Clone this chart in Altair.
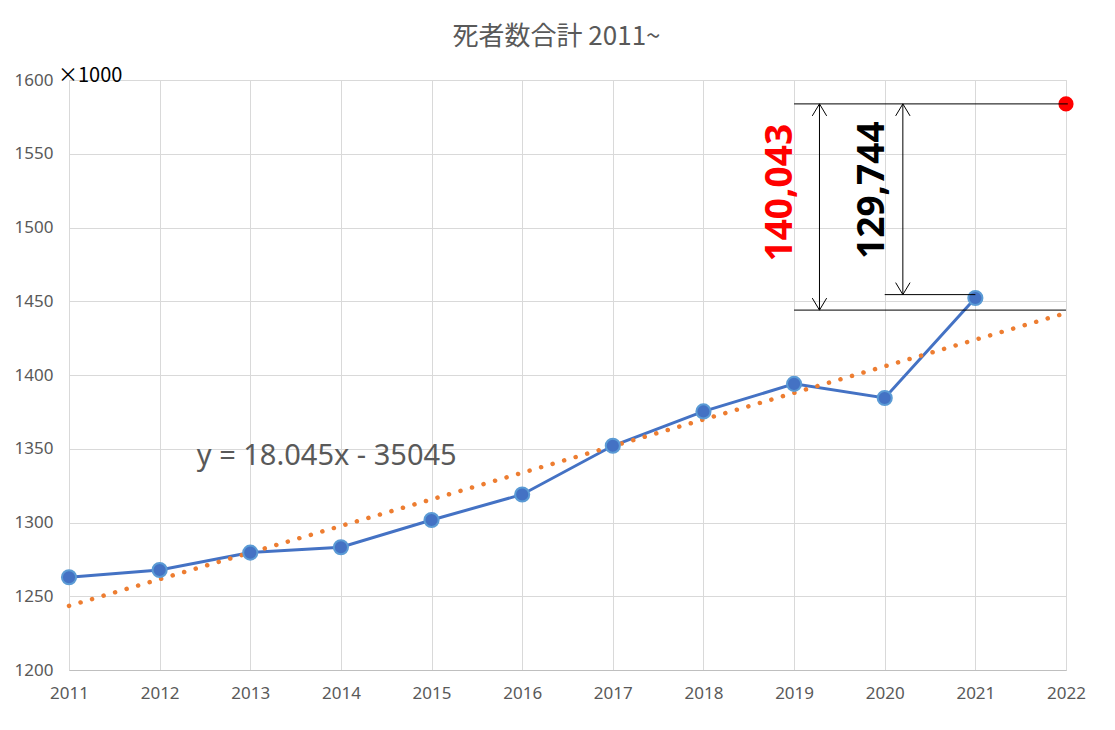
import altair as alt
import pandas as pd

# ---- data ----
years = list(range(2011, 2022))
deaths = [1262.9, 1267.8, 1279.6, 1283.2, 1301.7, 1319.0, 1352.0, 1375.3, 1394.0, 1384.4, 1452.2]
year_2022 = [2022]
deaths_2022 = [1583.8]
trend_years = [2011, 2022]
trend_values = [1243.5, 1442.0]
x_ticks = list(range(2011, 2023))
y_ticks = list(range(1200, 1601, 50))

title_text = ["死者数合計 2011~"]
equation_text = ["y = 18.045x - 35045"]
unit_text = ["×1000"]
diff_labels = ["140,043", "129,744"]
diff_colors = ["#FF0000", "#000000"]

# annotation geometry (data coordinates)
hl_x = [2019.0, 2019.0, 2020.0]
hl_x2 = [2022.02, 2022.0, 2021.0]
hl_y = [1583.8, 1444.0, 1454.5]
vl_x = [2019.28, 2020.2]
vl_y = [1583.8, 1583.8]
vl_y2 = [1444.0, 1454.5]
lab_x = [2018.86, 2019.87]
lab_y = [1523.6, 1525.3]
eq_x = [2012.41]
eq_y = [1339.0]

FONT = "Noto Sans"
JP = "Noto Sans CJK JP"
GRAY = "#595959"
GRID = "#d9d9d9"

xs = alt.Scale(domain=[2011, 2022], nice=False, zero=False)
ys = alt.Scale(domain=[1200, 1600], nice=False, zero=False)

x_axis = alt.Axis(values=x_ticks, format="d", title=None, grid=True, gridColor=GRID,
                  domainColor="#bfbfbf", ticks=False, labelFontSize=17, labelColor=GRAY,
                  labelFont=FONT, labelPadding=15, labelBaseline="top", labelFlush=False,
                  labelOverlap=False)
y_axis = alt.Axis(values=y_ticks, format="d", title=None, grid=True, gridColor=GRID, domain=False,
                  ticks=False, labelFontSize=17, labelColor=GRAY, labelFont=FONT, labelPadding=16,
                  labelFlush=False, labelOverlap=False)


def X(f):
    return alt.X(f"{f}:Q", scale=xs, axis=x_axis)


def Y(f):
    return alt.Y(f"{f}:Q", scale=ys, axis=y_axis)


df = pd.DataFrame({"year": years, "deaths": deaths})

line = alt.Chart(df).mark_line(color="#4472C4", strokeWidth=3).encode(x=X("year"), y=Y("deaths"))
pts = alt.Chart(df).mark_point(filled=True, size=200, fill="#4472C4", stroke="#5B9BD5",
                               strokeWidth=2, opacity=1).encode(x=X("year"), y=Y("deaths"))

trend_df = pd.DataFrame({"year": trend_years, "deaths": trend_values})
trend = alt.Chart(trend_df).mark_line(color="#ED7D31", strokeWidth=4.5, strokeCap="round",
                                      strokeDash=[0.1, 11.9]).encode(x=X("year"), y=Y("deaths"))

red_df = pd.DataFrame({"year": year_2022, "deaths": deaths_2022})
red = alt.Chart(red_df).mark_circle(size=230, color="#FF0000", opacity=1).encode(
    x=X("year"), y=Y("deaths"))

hl_df = pd.DataFrame({"x": hl_x, "x2": hl_x2, "y": hl_y})
hlines = alt.Chart(hl_df).mark_rule(color="black", strokeWidth=1).encode(
    x=X("x"), x2="x2:Q", y=Y("y"))

vl_df = pd.DataFrame({"x": vl_x, "y": vl_y, "y2": vl_y2})
vlines = alt.Chart(vl_df).mark_rule(color="black", strokeWidth=1).encode(
    x=X("x"), y=Y("y"), y2="y2:Q")

up = alt.Chart(vl_df).mark_point(shape="M -0.6 1 L 0 0 L 0.6 1", size=576, filled=False,
                                 color="black", strokeWidth=1, opacity=1).encode(x=X("x"), y=Y("y"))
down = alt.Chart(vl_df).mark_point(shape="M -0.6 -1 L 0 0 L 0.6 -1", size=576, filled=False,
                                   color="black", strokeWidth=1, opacity=1).encode(x=X("x"), y=Y("y2"))

lab_df = pd.DataFrame({"x": lab_x, "y": lab_y, "t": diff_labels, "c": diff_colors})
labels = alt.Chart(lab_df).mark_text(angle=270, align="center", baseline="middle", fontSize=37,
                                     fontWeight="bold", font=FONT).encode(
    x=X("x"), y=Y("y"), text="t:N", color=alt.Color("c:N", scale=None))

eq_df = pd.DataFrame({"x": eq_x, "y": eq_y, "t": equation_text})
eq = alt.Chart(eq_df).mark_text(align="left", baseline="alphabetic", fontSize=29, font=FONT,
                                color=GRAY).encode(x=X("x"), y=Y("y"), text="t:N")

unit_df = pd.DataFrame({"t": unit_text})
unit = alt.Chart(unit_df).mark_text(align="left", baseline="alphabetic", fontSize=20, font=JP,
                                    color="#000000").encode(
    x=alt.value(-11), y=alt.value(2), text="t:N")

title_df = pd.DataFrame({"t": title_text})
title = alt.Chart(title_df).mark_text(align="center", baseline="alphabetic", fontSize=26, font=JP,
                                      color=GRAY).encode(
    x=alt.value(487.5), y=alt.value(-35), text="t:N")

chart = alt.layer(line, trend, pts, red, hlines, vlines, up, down, labels, eq, unit, title).properties(
    width=997,
    height=590,
    autosize=alt.AutoSizeParams(type="none"),
    padding={"left": 61, "top": 72, "right": 40, "bottom": 50},
).configure_view(stroke="transparent").configure(background="white")

chart.save("out.html", embed_options={"renderer": "svg", "actions": False})
